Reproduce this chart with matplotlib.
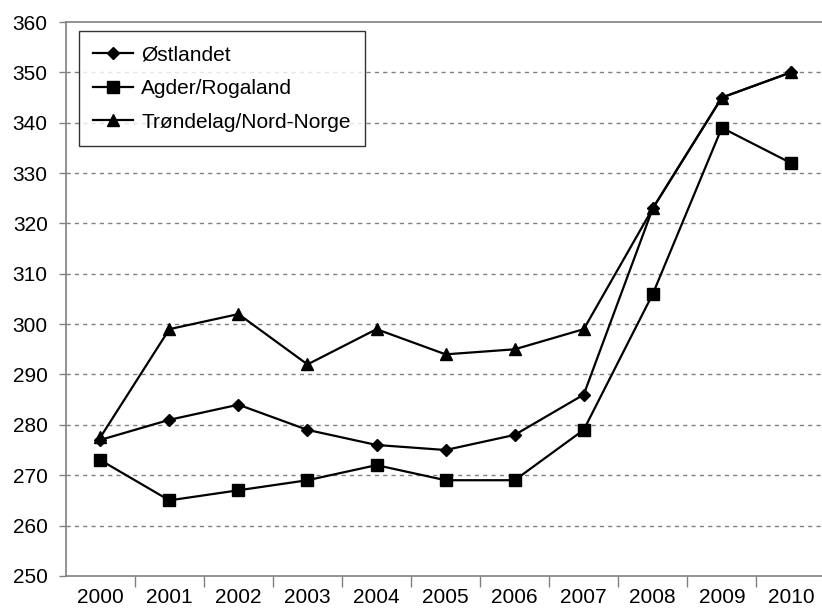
import matplotlib
matplotlib.use("Agg")
import matplotlib.pyplot as plt
import numpy as np

plt.rcParams['font.family'] = ['Liberation Sans', 'DejaVu Sans']

years = ['2000', '2001', '2002', '2003', '2004', '2005',
         '2006', '2007', '2008', '2009', '2010']
ostlandet = [277, 281, 284, 279, 276, 275, 278, 286, 323, 345, 350]
agder_rogaland = [273, 265, 267, 269, 272, 269, 269, 279, 306, 339, 332]
trondelag_nord = [277.5, 299, 302, 292, 299, 294, 295, 299, 323, 345, 350]

fig = plt.figure(figsize=(8.22, 6.12), dpi=100)
ax = fig.add_axes([0.080, 0.059, 0.920, 0.905])

x = np.arange(len(years))
ax.plot(x, ostlandet, color='black', lw=1.6, marker='D', markersize=6.5,
        label='Østlandet', clip_on=False, zorder=3)
ax.plot(x, agder_rogaland, color='black', lw=1.6, marker='s', markersize=9,
        label='Agder/Rogaland', clip_on=False, zorder=3)
ax.plot(x, trondelag_nord, color='black', lw=1.6, marker='^', markersize=9,
        label='Trøndelag/Nord-Norge', clip_on=False, zorder=3)

ax.set_ylim(250, 360)
ax.set_yticks(np.arange(250, 361, 10))
ax.set_xlim(-0.5, 10.45)

# category ticks sit between the years, labels at the years
ax.set_xticks(np.arange(0.5, 10, 1))
ax.set_xticklabels([])
ax.set_xticks(x, minor=True)
ax.set_xticklabels(years, minor=True)
ax.tick_params(axis='x', which='minor', length=0, pad=9, labelsize=15)
ax.tick_params(axis='x', which='major', length=8, color='#808080', width=1)
ax.tick_params(axis='y', length=5, color='#808080', width=1, labelsize=15, pad=8)

for v in np.arange(260, 360, 10):
    ax.axhline(v, color='#808080', lw=1, linestyle=(0, (3, 3)), zorder=1)
ax.axhline(360, color='#808080', lw=1.2, zorder=1, clip_on=False)

for s in ['top', 'right']:
    ax.spines[s].set_visible(False)
for s in ['left', 'bottom']:
    ax.spines[s].set_color('#808080')
    ax.spines[s].set_linewidth(1.2)

leg = ax.legend(loc='upper left', bbox_to_anchor=(0.017, 0.984), borderaxespad=0,
                fontsize=15, frameon=True, fancybox=False, edgecolor='black',
                handlelength=1.9, borderpad=0.7, labelspacing=0.7,
                handletextpad=0.4)
leg.get_frame().set_linewidth(1.0)

fig.savefig('out.png', dpi=100)
